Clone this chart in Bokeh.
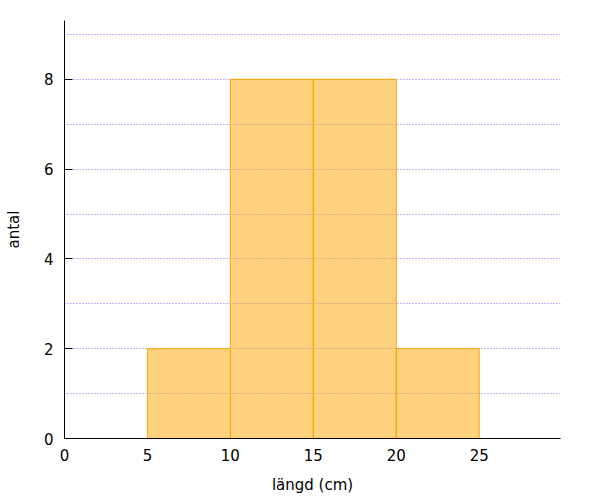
from bokeh.plotting import figure
from bokeh.models import FixedTicker, Range1d
from bokeh.embed import file_html
from bokeh.resources import INLINE

bin_left = [5, 10, 15, 20]
bin_right = [10, 15, 20, 25]
counts = [2, 8, 8, 2]
x_ticks = [0, 5, 10, 15, 20, 25]
y_ticks = [0, 2, 4, 6, 8]
y_grid = [1, 2, 3, 4, 5, 6, 7, 8, 9]

FONT = "DejaVu Sans"

p = figure(width=600, height=500, output_backend="svg", toolbar_location=None,
           x_range=Range1d(0, 29.9), y_range=Range1d(0, 9.31),
           min_border_left=64, min_border_right=40, min_border_top=20, min_border_bottom=62)
p.outline_line_color = None
p.background_fill_color = "white"
p.border_fill_color = "white"

p.quad(left=bin_left, right=bin_right, bottom=0, top=counts,
       fill_color="orange", fill_alpha=0.5, line_color="orange", line_width=1)

p.xgrid.visible = False
p.ygrid.ticker = FixedTicker(ticks=y_grid)
p.ygrid.grid_line_color = "#0000ff"
p.ygrid.grid_line_alpha = 0.55
p.ygrid.grid_line_dash = "1 2"
p.ygrid.grid_line_width = 1
p.ygrid.level = "underlay"

xa = p.xaxis[0]
xa.ticker = FixedTicker(ticks=x_ticks)
xa.major_tick_in = 0
xa.major_tick_out = 0
xa.minor_tick_in = 0
xa.minor_tick_out = 0
xa.major_label_standoff = 10
xa.axis_label = "längd (cm)"
xa.axis_label_standoff = 12
xa.axis_label_text_font_style = "normal"

ya = p.yaxis[0]
ya.ticker = FixedTicker(ticks=y_ticks)
ya.major_tick_in = 8
ya.major_tick_out = 0
ya.minor_tick_in = 0
ya.minor_tick_out = 0
ya.major_label_standoff = 11
ya.axis_label = "antal"
ya.axis_label_standoff = 18
ya.axis_label_text_font_style = "normal"

for ax in (xa, ya):
    ax.axis_line_color = "black"
    ax.axis_line_width = 1
    ax.major_tick_line_color = "black"
    ax.major_label_text_font = FONT
    ax.major_label_text_font_size = "15px"
    ax.major_label_text_color = "black"
    ax.axis_label_text_font = FONT
    ax.axis_label_text_font_size = "15px"
    ax.axis_label_text_color = "black"

open("out.html", "w").write(file_html(p, INLINE))
